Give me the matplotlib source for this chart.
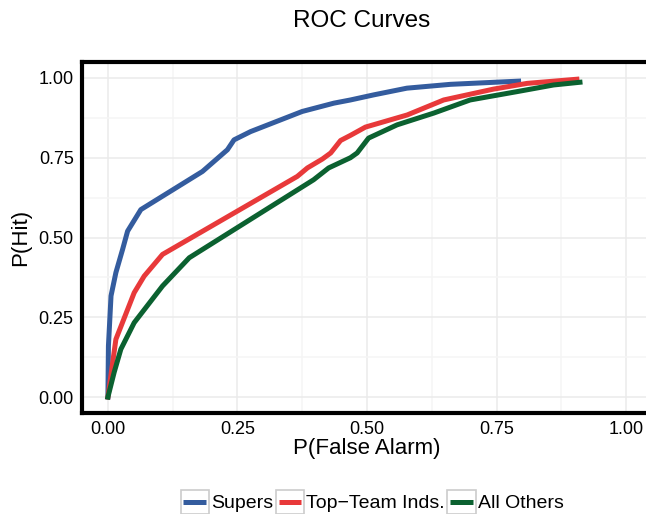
import matplotlib.pyplot as plt
import matplotlib.patches as mpatches
from matplotlib.legend_handler import HandlerLine2D
from matplotlib.lines import Line2D
from matplotlib.ticker import MultipleLocator

plt.rcParams['font.family'] = ['Liberation Sans', 'DejaVu Sans']

# ROC points
supers_fa = [0, 0.001, 0.006, 0.0154, 0.0283, 0.038, 0.0636, 0.1825, 0.2306, 0.2434, 0.2755,
             0.375, 0.436, 0.468, 0.513, 0.577, 0.661, 0.7925]
supers_hit = [0, 0.16, 0.317, 0.39, 0.4625, 0.52, 0.5875, 0.707, 0.775, 0.806, 0.832,
              0.895, 0.921, 0.931, 0.947, 0.968, 0.98, 0.99]

top_fa = [0, 0.0154, 0.0507, 0.07, 0.1054, 0.3655, 0.385, 0.414, 0.43, 0.449, 0.468, 0.497,
          0.5775, 0.648, 0.744, 0.809, 0.905]
top_hit = [0, 0.181, 0.327, 0.379, 0.447, 0.6915, 0.718, 0.746, 0.765, 0.804, 0.82, 0.846,
           0.884, 0.931, 0.965, 0.983, 0.996]

other_fa = [0, 0.012, 0.025, 0.0507, 0.1054, 0.157, 0.397, 0.426, 0.468, 0.481, 0.503,
            0.558, 0.629, 0.699, 0.789, 0.86, 0.911]
other_hit = [0, 0.077, 0.15, 0.233, 0.348, 0.4365, 0.681, 0.718, 0.75, 0.765, 0.8115,
             0.853, 0.89, 0.931, 0.957, 0.978, 0.9865]

labels = ["Supers", "Top\u2212Team Inds.", "All Others"]
colors = ["#345C9E", "#E8393A", "#0B6130"]


class BoxedLine(HandlerLine2D):
    # ggplot style key: grey box with the line inside
    def create_artists(self, legend, orig_handle, xdescent, ydescent, width, height, fontsize, trans):
        x0, y0 = -xdescent, -ydescent
        rect = mpatches.Rectangle((x0, y0), width, height, facecolor="white",
                                  edgecolor="#CCCCCC", lw=1.2, transform=trans)
        y = y0 + 0.5 * height
        ln = Line2D([x0 + width * 0.1, x0 + width * 0.9], [y, y],
                    color=orig_handle.get_color(), lw=orig_handle.get_linewidth(),
                    solid_capstyle="butt", transform=trans)
        return [rect, ln]


fig = plt.figure(figsize=(6.46, 5.14), dpi=100)
ax = fig.add_axes([82 / 646, 101 / 514, 570 / 646, 351 / 514])

for fa, hit, lab, col in zip([supers_fa, top_fa, other_fa], [supers_hit, top_hit, other_hit],
                             labels, colors):
    ax.plot(fa, hit, color=col, lw=3.6, label=lab, solid_joinstyle="round")

ax.set_xlim(-0.05, 1.05)
ax.set_ylim(-0.05, 1.05)
ax.xaxis.set_major_locator(MultipleLocator(0.25))
ax.yaxis.set_major_locator(MultipleLocator(0.25))
ax.xaxis.set_minor_locator(MultipleLocator(0.125))
ax.yaxis.set_minor_locator(MultipleLocator(0.125))
ax.grid(which="major", color="#EBEBEB", lw=1.1)
ax.grid(which="minor", color="#F5F5F5", lw=1.1)
ax.set_axisbelow(True)
ax.tick_params(which="both", length=0, labelsize=13, labelcolor="black", pad=6)
ax.xaxis.set_major_formatter(plt.FuncFormatter(lambda v, p: f"{v:.2f}"))
ax.yaxis.set_major_formatter(plt.FuncFormatter(lambda v, p: f"{v:.2f}"))
for s in ax.spines.values():
    s.set_linewidth(3)
    s.set_color("black")

ax.set_xlabel("P(False Alarm)", fontsize=16, labelpad=0)
ax.set_ylabel("P(Hit)", fontsize=16, labelpad=5)
fig.text(362 / 646, 1 - 21 / 514, "ROC Curves", fontsize=17.5, ha="center", va="center")

handles = ax.get_lines()
fig.legend(handles, labels, loc="center", bbox_to_anchor=(372 / 646, 1 - 502 / 514), ncol=3,
           frameon=False, fontsize=14, handler_map={Line2D: BoxedLine()},
           handlelength=1.45, handleheight=1.45, handletextpad=0.1, columnspacing=0.15,
           borderpad=0.2)

fig.savefig("out.png", dpi=100)
